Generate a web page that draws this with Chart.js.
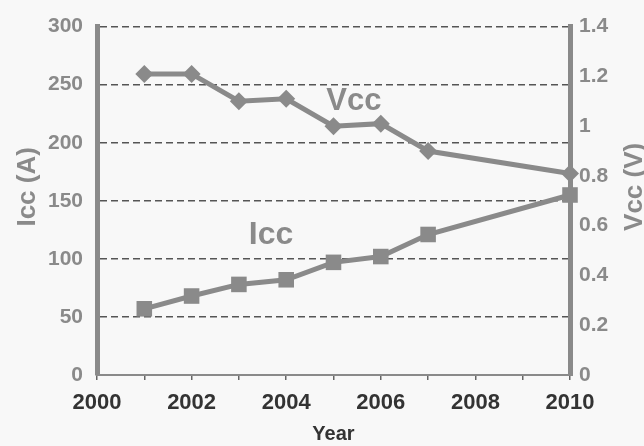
<!DOCTYPE html>
<html>
<head>
<meta charset="utf-8">
<script src="https://cdn.jsdelivr.net/npm/chart.js@4.4.1/dist/chart.umd.min.js"></script>
<style>
  html, body { margin: 0; padding: 0; background: #f8f8f8; }
  #wrap { width: 644px; height: 446px; }
</style>
</head>
<body>
<div id="wrap"><canvas id="chart" width="644" height="446"></canvas></div>
<script>
// Supply voltage and current by year
const years = [2001, 2002, 2003, 2004, 2005, 2006, 2007, 2010];
const vcc = [1.21, 1.21, 1.10, 1.11, 1.00, 1.01, 0.90, 0.81];
const icc = [57, 68, 78, 82, 97, 102, 121, 155];

// Axis tick labels
const yearTickLabels = ['2000', '2002', '2004', '2006', '2008', '2010'];
const iccTickLabels = ['0', '50', '100', '150', '200', '250', '300'];
const vccTickLabels = ['0', '0.2', '0.4', '0.6', '0.8', '1', '1.2', '1.4'];

const GREY = '#8a8a8a';
const DARK = '#333333';
const FONT = '"Liberation Sans", Arial, sans-serif';

Chart.defaults.font.family = FONT;

const findLabel = (labels, value) => {
  const hit = labels.find(l => Math.abs(Number(l) - value) < 1e-6);
  return hit === undefined ? '' : hit;
};

// In-plot series names
const seriesNames = {
  id: 'seriesNames',
  afterDatasetsDraw(chart) {
    const { ctx, scales } = chart;
    ctx.save();
    ctx.fillStyle = GREY;
    ctx.textAlign = 'center';
    ctx.textBaseline = 'alphabetic';
    ctx.font = 'bold 31px ' + FONT;
    ctx.fillText('Vcc', scales.x.getPixelForValue(2005.43), scales.y1.getPixelForValue(1.063));
    ctx.font = 'bold 32px ' + FONT;
    ctx.fillText('Icc', scales.x.getPixelForValue(2003.68), scales.y.getPixelForValue(113));
    ctx.restore();
  }
};

// Vertical axis titles, both reading bottom to top
const sideTitles = {
  id: 'sideTitles',
  afterDraw(chart) {
    const { ctx, chartArea, scales } = chart;
    const cy = chartArea.top + (chartArea.bottom - chartArea.top) * 0.46;
    const draw = (text, x) => {
      ctx.save();
      ctx.translate(x, cy);
      ctx.rotate(-Math.PI / 2);
      ctx.fillStyle = GREY;
      ctx.font = 'bold 26px ' + FONT;
      ctx.textAlign = 'center';
      ctx.textBaseline = 'middle';
      ctx.fillText(text, 0, 0);
      ctx.restore();
    };
    draw('Icc (A)', scales.y.left + 28);
    draw('Vcc (V)', scales.y1.right - 9);
  }
};

new Chart(document.getElementById('chart'), {
  type: 'line',
  data: {
    datasets: [
      {
        label: 'Vcc',
        yAxisID: 'y1',
        data: years.map((yr, i) => ({ x: yr, y: vcc[i] })),
        borderColor: GREY,
        backgroundColor: GREY,
        borderWidth: 5,
        pointStyle: 'rectRot',
        pointRadius: 9,
        pointBorderWidth: 0,
        pointBackgroundColor: GREY,
        tension: 0,
        clip: false
      },
      {
        label: 'Icc',
        yAxisID: 'y',
        data: years.map((yr, i) => ({ x: yr, y: icc[i] })),
        borderColor: GREY,
        backgroundColor: GREY,
        borderWidth: 5,
        pointStyle: 'rect',
        pointRadius: 11,
        pointBorderWidth: 0,
        pointBackgroundColor: GREY,
        tension: 0,
        clip: false
      }
    ]
  },
  options: {
    responsive: false,
    animation: false,
    devicePixelRatio: 1,
    layout: { padding: { top: 22, left: 0, right: 0, bottom: 0 } },
    plugins: {
      legend: { display: false },
      tooltip: { enabled: false }
    },
    scales: {
      x: {
        type: 'linear',
        position: 'bottom',
        min: 2000,
        max: 2010,
        ticks: {
          stepSize: 1,
          autoSkip: false,
          maxRotation: 0,
          padding: 10,
          color: DARK,
          font: { size: 22, weight: 'bold' },
          callback: v => findLabel(yearTickLabels, v)
        },
        grid: {
          drawOnChartArea: false,
          drawTicks: true,
          tickLength: 5,
          color: '#666666',
          lineWidth: 1.5
        },
        border: { color: GREY, width: 2 },
        title: {
          display: true,
          text: 'Year',
          color: DARK,
          font: { size: 20, weight: 'bold' },
          padding: { top: 0, bottom: 0 }
        },
        afterFit: s => { s.height = 71; }
      },
      y: {
        position: 'left',
        min: 0,
        max: 300,
        ticks: {
          stepSize: 50,
          padding: 14,
          color: GREY,
          font: { size: 21, weight: 'bold' },
          callback: v => findLabel(iccTickLabels, v)
        },
        grid: {
          drawTicks: false,
          color: c => (c.tick && c.tick.value === 0 ? 'rgba(0,0,0,0)' : '#555555'),
          lineWidth: 1.5
        },
        border: { color: GREY, width: 5, dash: [7, 4] },
        afterFit: s => { s.width = 97; }
      },
      y1: {
        position: 'right',
        min: 0,
        max: 1.4,
        ticks: {
          stepSize: 0.2,
          padding: 9,
          color: GREY,
          font: { size: 21, weight: 'bold' },
          callback: v => findLabel(vccTickLabels, v)
        },
        grid: { drawOnChartArea: false, drawTicks: false },
        border: { color: GREY, width: 5 },
        afterFit: s => { s.width = 74; }
      }
    }
  },
  plugins: [seriesNames, sideTitles]
});
</script>
</body>
</html>
